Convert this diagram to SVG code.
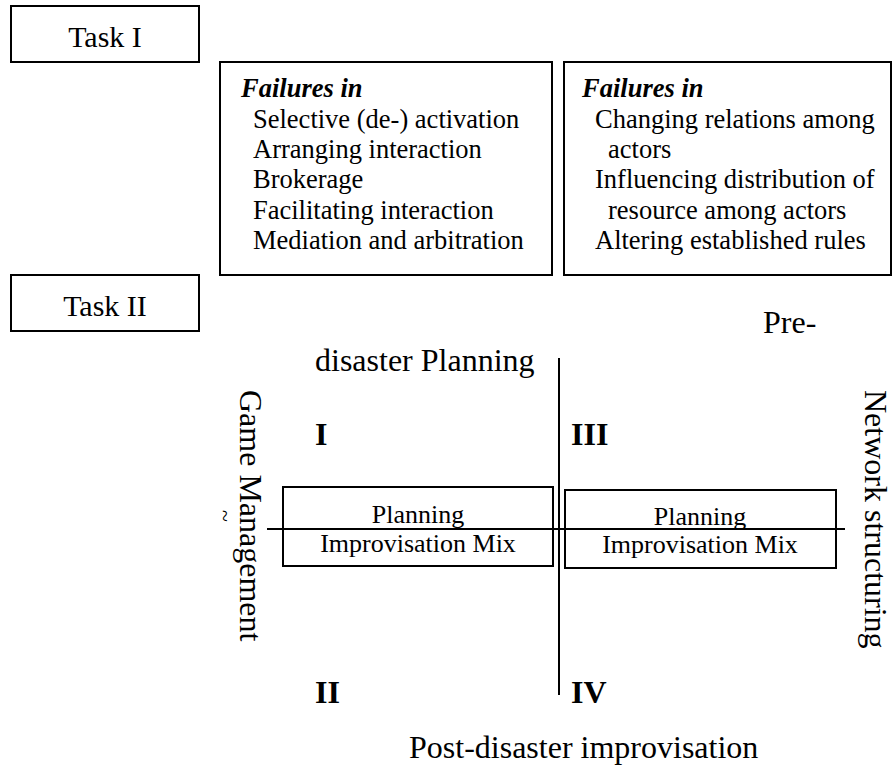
<svg xmlns="http://www.w3.org/2000/svg" width="894" height="767" viewBox="0 0 894 767">
  <style>
    text { font-family: "Liberation Serif", "Times New Roman", serif; fill: #000; }
    .box { fill: #fff; stroke: #000; stroke-width: 2; }
    .frame { fill: none; stroke: #000; stroke-width: 2; }
    .task { font-size: 30px; }
    .body { font-size: 26.5px; }
    .head { font-size: 26.5px; font-weight: bold; font-style: italic; }
    .axis { font-size: 32px; }
    .quad { font-size: 32px; font-weight: bold; }
    .mix { font-size: 26px; text-anchor: middle; }
    .line { stroke: #000; stroke-width: 2; fill: none; }
  </style>

  <!-- Task I label -->
  <g id="task1">
    <rect class="box" x="11" y="6" width="188" height="56"/>
    <text class="task" x="105" y="47" text-anchor="middle">Task I</text>
  </g>

  <!-- Game management failures -->
  <g id="failures-gm">
    <rect class="box" x="220" y="62" width="332" height="213"/>
    <text class="head" x="241" y="97">Failures in</text>
    <text class="body" x="253" y="128">Selective (de-) activation</text>
    <text class="body" x="253" y="158">Arranging interaction</text>
    <text class="body" x="253" y="188">Brokerage</text>
    <text class="body" x="253" y="219">Facilitating interaction</text>
    <text class="body" x="253" y="249">Mediation and arbitration</text>
  </g>

  <!-- Network structuring failures -->
  <g id="failures-ns">
    <rect class="box" x="564" y="62" width="327" height="213"/>
    <text class="head" x="582" y="97">Failures in</text>
    <text class="body" x="595" y="128">Changing relations among</text>
    <text class="body" x="608" y="158">actors</text>
    <text class="body" x="595" y="188">Influencing distribution of</text>
    <text class="body" x="608" y="219">resource among actors</text>
    <text class="body" x="595" y="249">Altering established rules</text>
  </g>

  <!-- Task II label -->
  <g id="task2">
    <rect class="box" x="11" y="275" width="188" height="56"/>
    <text class="task" x="105" y="316" text-anchor="middle">Task II</text>
  </g>

  <!-- Axes -->
  <g id="connectors">
    <line class="line" x1="559" y1="358" x2="559" y2="695"/>
    <line class="line" x1="267" y1="529" x2="845" y2="529"/>
  </g>

  <!-- Axis labels -->
  <g id="axis-labels">
    <text class="axis" x="763" y="333">Pre-</text>
    <text class="axis" x="315" y="371">disaster Planning</text>
    <text class="axis" x="409" y="758">Post-disaster improvisation</text>
    <text class="axis" transform="translate(240 390) rotate(90)">Game Management</text>
    <text style="font-size:22px" transform="translate(218 510) rotate(90)">~</text>
    <text class="axis" transform="translate(865 390) rotate(90)">Network structuring</text>
  </g>

  <!-- Quadrant numbers -->
  <g id="quadrants">
    <text class="quad" x="315" y="445">I</text>
    <text class="quad" x="571" y="445">III</text>
    <text class="quad" x="315" y="703">II</text>
    <text class="quad" x="571" y="703">IV</text>
  </g>

  <!-- Planning / improvisation mix boxes -->
  <g id="mix-left">
    <rect class="frame" x="283" y="487" width="270" height="79"/>
    <text class="mix" x="418" y="523">Planning</text>
    <text class="mix" x="418" y="552">Improvisation Mix</text>
  </g>
  <g id="mix-right">
    <rect class="frame" x="565" y="490" width="271" height="78"/>
    <text class="mix" x="700" y="525">Planning</text>
    <text class="mix" x="700" y="553">Improvisation Mix</text>
  </g>
</svg>
